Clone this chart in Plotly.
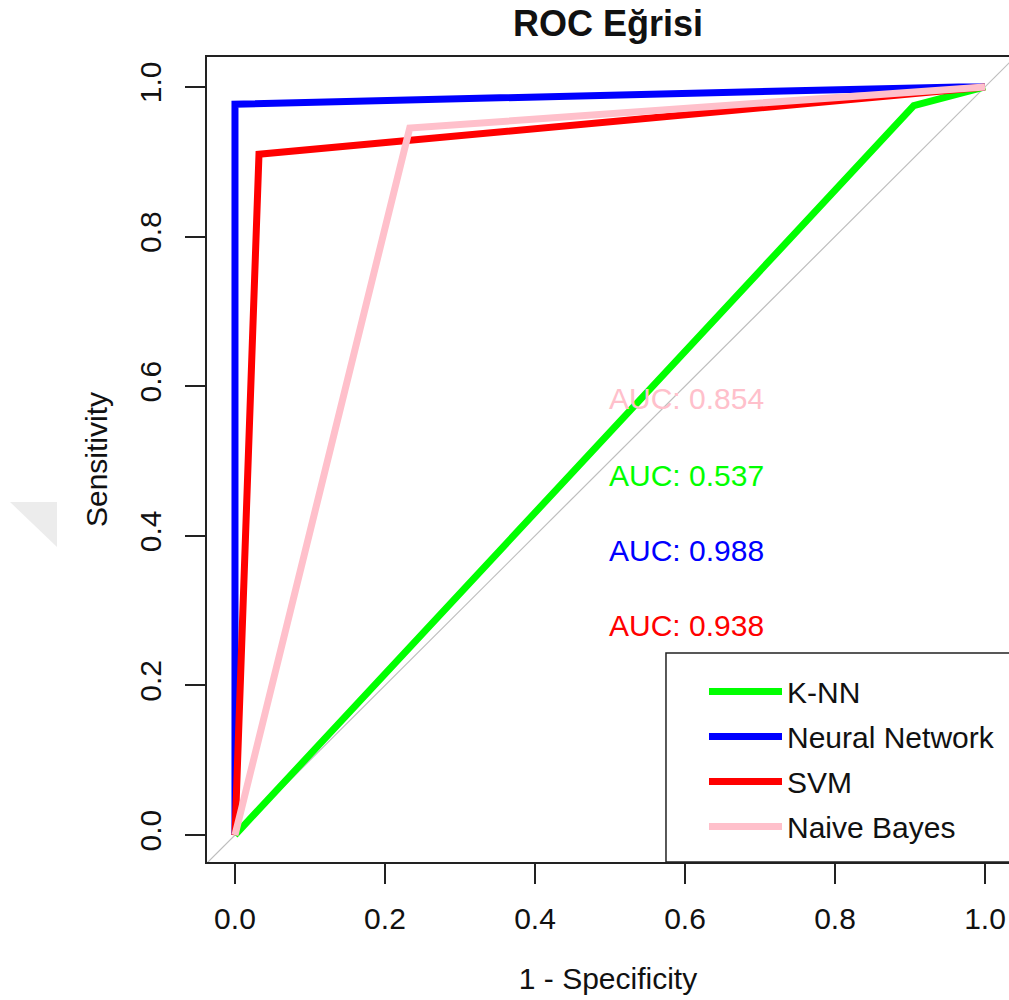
import plotly.graph_objects as go

# ---- data ----
models = ["K-NN", "Neural Network", "SVM", "Naive Bayes"]
colors = ["#00ff00", "#0000ff", "#ff0000", "#ffc0cb"]
fpr = {
    "K-NN": [0.0, 0.905, 1.0],
    "Neural Network": [0.0, 0.0, 0.965, 1.0],
    "SVM": [0.0, 0.032, 1.0],
    "Naive Bayes": [0.0, 0.233, 1.0],
}
tpr = {
    "K-NN": [0.0, 0.975, 1.0],
    "Neural Network": [0.0, 0.977, 1.0, 1.0],
    "SVM": [0.0, 0.91, 1.0],
    "Naive Bayes": [0.0, 0.945, 1.0],
}
auc = {"K-NN": 0.537, "Neural Network": 0.988, "SVM": 0.938, "Naive Bayes": 0.854}
auc_text_y = {"Naive Bayes": 0.583, "K-NN": 0.48, "Neural Network": 0.38, "SVM": 0.28}
auc_text_x = 0.496
diag = [-0.05, 1.05]
ticks = [0.0, 0.2, 0.4, 0.6, 0.8, 1.0]
tick_labels = ["0.0", "0.2", "0.4", "0.6", "0.8", "1.0"]

FONT = "Liberation Sans, Arial, Helvetica, sans-serif"

fig = go.Figure()

# reference diagonal
fig.add_trace(go.Scatter(x=diag, y=diag, mode="lines",
                         line=dict(color="#bebebe", width=1.2),
                         showlegend=False, hoverinfo="skip"))

for m, c in zip(models, colors):
    fig.add_trace(go.Scatter(x=fpr[m], y=tpr[m], mode="lines", name=m,
                             line=dict(color=c, width=7),
                             legendgroup=m))

for m, c in zip(models, colors):
    fig.add_annotation(x=auc_text_x, y=auc_text_y[m], xref="x", yref="y",
                       text=f"AUC: {auc[m]:.3f}", showarrow=False,
                       xanchor="left", yanchor="middle",
                       font=dict(family=FONT, size=30, color=c))

# light gray watermark triangle at left edge
fig.add_shape(type="path", xref="paper", yref="paper",
              path="M -0.2456,0.4472 L -0.187,0.4472 L -0.187,0.3913 Z",
              fillcolor="#ececec", line=dict(width=0), layer="below")

# legend frame
fig.add_shape(type="rect", xref="paper", yref="paper",
              x0=0.5723, x1=1.02, y0=0.0, y1=0.2596,
              fillcolor="white", line=dict(color="#222", width=1.5),
              layer="above")

axis_common = dict(
    tickmode="array", tickvals=ticks, ticktext=tick_labels,
    ticks="outside", ticklen=20, tickwidth=1.5, tickcolor="#222",
    showgrid=False, zeroline=False, showline=True, linecolor="#222",
    linewidth=1.5, tickfont=dict(family=FONT, size=30, color="#111"),
)

fig.update_layout(
    width=1009, height=1000,
    margin=dict(l=207, r=0, t=57, b=138),
    paper_bgcolor="white", plot_bgcolor="white",
    font=dict(family=FONT, size=30, color="#111"),
    title=dict(text="<b>ROC Eğrisi</b>", x=0.5, xref="paper", y=1 - 23 / 1000,
               yref="container", xanchor="center", yanchor="middle",
               font=dict(family=FONT, size=36, color="#111")),
    xaxis=dict(range=[-0.0373, 1.032], mirror=True, ticklabelstandoff=9,
               title=dict(text="1 - Specificity", standoff=34,
                          font=dict(family=FONT, size=30, color="#111")),
               **axis_common),
    yaxis=dict(range=[-0.036, 1.04], tickangle=-90, ticklabelstandoff=12,
               title=dict(text="Sensitivity", standoff=18,
                          font=dict(family=FONT, size=30, color="#111")),
               **axis_common),
    legend=dict(x=0.6197, y=0.244, xanchor="left", yanchor="top",
                bgcolor="rgba(0,0,0,0)", borderwidth=0,
                font=dict(family=FONT, size=30, color="#111"),
                tracegroupgap=3, itemwidth=73),
    showlegend=True,
)

fig.write_html(
    "out.html",
    config={"displayModeBar": False},
    post_script="document.body.style.margin='0';document.body.style.overflow='hidden';",
)
